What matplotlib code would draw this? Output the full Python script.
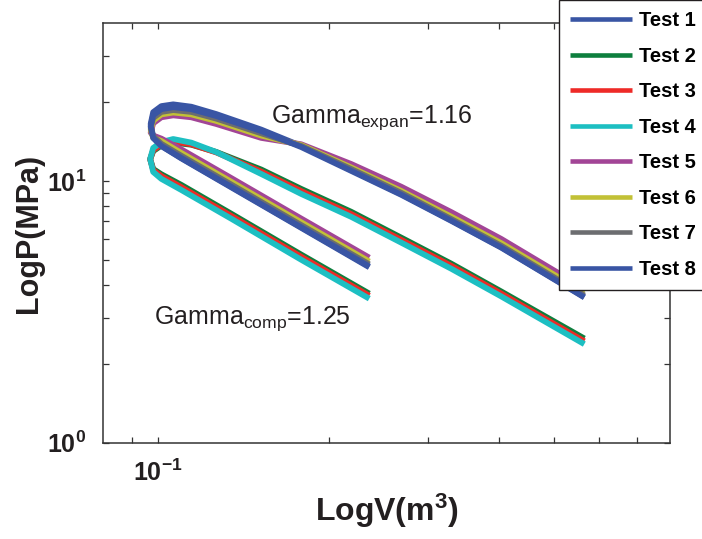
import matplotlib
matplotlib.use('Agg')
import matplotlib.pyplot as plt
from matplotlib.ticker import FixedLocator, NullFormatter, FixedFormatter

plt.rcParams['font.family'] = ['Liberation Sans', 'DejaVu Sans']
plt.rcParams['mathtext.fontset'] = 'custom'
plt.rcParams['mathtext.rm'] = 'Liberation Sans'
plt.rcParams['mathtext.bf'] = 'Liberation Sans:bold'
plt.rcParams['mathtext.it'] = 'Liberation Sans:italic'

labels = ['Test 1', 'Test 2', 'Test 3', 'Test 4', 'Test 5', 'Test 6', 'Test 7', 'Test 8']
colors = ['#3955a4', '#0e7f3e', '#ee2a27', '#1dbfc2', '#a24596', '#c2c136', '#6c6d70', '#3955a4']

# volume along each loop: compression (right -> left), turn, expansion (left -> right)
v_high = [0.2359, 0.1789, 0.1347, 0.1099, 0.1014, 0.0981, 0.0971, 0.0981, 0.1014, 0.1064,
          0.1145, 0.1267, 0.1521, 0.1789, 0.2192, 0.2686, 0.3290, 0.4032, 0.5649]
v_low = [0.2359, 0.1789, 0.1347, 0.1099, 0.1014, 0.0981, 0.0969, 0.0981, 0.1014, 0.1064,
         0.1145, 0.1267, 0.1521, 0.1789, 0.2192, 0.2686, 0.3290, 0.4032, 0.5649]

# pressure (MPa)
p_test1 = [4.68, 6.62, 9.45, 12.2, 13.6, 14.7, 16.5, 18.3, 19.3, 19.6,
           19.2, 18.0, 15.7, 13.6, 11.0, 8.90, 7.07, 5.58, 3.60]
p_test2 = [3.71, 5.23, 7.49, 9.66, 10.6, 11.1, 12.1, 13.0, 13.65, 14.0,
           13.75, 12.9, 11.05, 9.32, 7.62, 6.07, 4.83, 3.78, 2.50]
p_test3 = [3.64, 5.13, 7.35, 9.47, 10.43, 11.0, 12.1, 13.1, 13.8, 14.15,
           13.8, 12.85, 10.85, 9.14, 7.47, 5.95, 4.74, 3.71, 2.44]
p_test4 = [3.55, 5.00, 7.17, 9.24, 10.18, 10.82, 12.13, 13.36, 14.07, 14.45,
           14.0, 12.89, 10.63, 8.92, 7.29, 5.81, 4.62, 3.62, 2.38]
p_test5 = [5.09, 7.18, 10.25, 13.2, 14.5, 14.9, 15.3, 16.6, 17.5, 17.8,
           17.5, 16.5, 14.6, 13.8, 11.6, 9.50, 7.60, 6.00, 3.88]
p_test6 = [4.92, 6.95, 9.92, 12.79, 14.2, 14.6, 15.7, 17.0, 17.95, 18.25,
           17.95, 16.95, 14.9, 13.7, 11.25, 9.15, 7.30, 5.78, 3.74]
p_test7 = [4.80, 6.78, 9.68, 12.48, 13.85, 14.8, 16.0, 17.4, 18.35, 18.65,
           18.35, 17.3, 15.2, 13.6, 11.1, 9.00, 7.15, 5.65, 3.65]
p_test8 = [4.71, 6.65, 9.49, 12.24, 13.59, 14.58, 16.2, 17.83, 18.8, 19.13,
           18.8, 17.7, 15.5, 13.47, 10.92, 8.85, 7.04, 5.56, 3.59]

volumes = [v_high, v_low, v_low, v_low, v_high, v_high, v_high, v_high]
pressures = [p_test1, p_test2, p_test3, p_test4, p_test5, p_test6, p_test7, p_test8]

fig = plt.figure(figsize=(7.02, 5.39), dpi=100)
ax = fig.add_axes([0.1467, 0.1787, 0.8077, 0.7781])

for v, p, c, lab in zip(volumes, pressures, colors, labels):
    ax.plot(v, p, color=c, linewidth=4.2, label=lab,
            solid_capstyle='butt', solid_joinstyle='round')

ax.set_xscale('log')
ax.set_yscale('log')
ax.set_xlim(0.08, 0.8)
ax.set_ylim(1, 40)

ax.xaxis.set_major_locator(FixedLocator([0.1]))
ax.xaxis.set_major_formatter(FixedFormatter([r'$\mathbf{10^{-1}}$']))
ax.xaxis.set_minor_locator(FixedLocator([0.09, 0.2, 0.3, 0.4, 0.5, 0.6, 0.7]))
ax.xaxis.set_minor_formatter(NullFormatter())
ax.yaxis.set_major_locator(FixedLocator([1, 10]))
ax.yaxis.set_major_formatter(FixedFormatter([r'$\mathbf{10^{0}}$', r'$\mathbf{10^{1}}$']))
ax.yaxis.set_minor_locator(FixedLocator([2, 3, 4, 5, 6, 7, 8, 9, 20, 30]))
ax.yaxis.set_minor_formatter(NullFormatter())

ax.tick_params(which='both', direction='in', top=True, right=True, length=4,
               width=0.9, color='#333333')
ax.tick_params(which='major', labelsize=18, pad=12, labelcolor='#231f20')
for s in ax.spines.values():
    s.set_color('#333333')
    s.set_linewidth(1.1)

ax.set_xlabel(r'LogV(m$^\mathbf{3}$)', fontsize=23, fontweight='bold', color='#231f20', labelpad=4)
ax.set_ylabel('LogP(MPa)', fontsize=22, fontweight='bold', color='#231f20', labelpad=2)

ax.text(0.158, 16.67, r'Gamma$_{\mathrm{expan}}$=1.16', fontsize=18, color='#231f20', va='baseline')
ax.text(0.0986, 2.848, r'Gamma$_{\mathrm{comp}}$=1.25', fontsize=18, color='#231f20', va='baseline')

leg = ax.legend(loc='lower left', bbox_to_anchor=(0.7967, 0.462), bbox_transform=fig.transFigure,
                fancybox=False, framealpha=1, edgecolor='#231f20', borderpad=0.55,
                borderaxespad=0, labelspacing=0.82, handlelength=3.05, handletextpad=0.36,
                prop={'family': 'Liberation Sans', 'weight': 'bold', 'size': 14.5})
leg.get_frame().set_linewidth(1.0)
for line in leg.get_lines():
    line.set_linewidth(3.3)
leg.set_zorder(10)

fig.savefig('out.png', dpi=100)
